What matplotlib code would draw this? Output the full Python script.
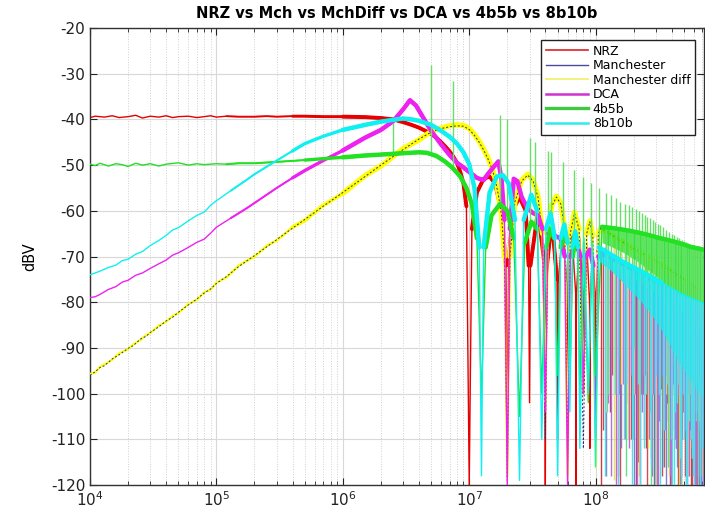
import numpy as np
import matplotlib
matplotlib.use("Agg")
import matplotlib.pyplot as plt
from matplotlib.ticker import LogLocator, NullFormatter, MultipleLocator
from matplotlib.lines import Line2D

plt.rcParams['font.family'] = ['DejaVu Sans']
plt.rcParams['axes.unicode_minus'] = False

# ---------------- data: frequency in MHz, level in dBV ----------------
labels = ["NRZ", "Manchester", "Manchester diff", "DCA", "4b5b", "8b10b"]

nrz_f = [0.01, 0.011, 0.013, 0.015, 0.017, 0.02, 0.023, 0.026, 0.03, 0.035, 0.04, 0.045, 0.05, 0.06,
         0.07, 0.08, 0.09, 0.1, 0.12, 0.15, 0.2, 0.25, 0.3, 0.4, 0.5, 0.7, 1, 1.5, 2, 2.5, 3, 3.5, 4,
         4.5, 5, 5.5, 6, 6.5, 7, 7.5, 8, 8.5, 9, 9.5, 10, 10.5, 11.5, 13, 14.5, 16, 18, 19.5, 20, 20.5,
         22, 25, 28, 29.5, 30, 30.5, 35, 39.5, 40, 40.5, 45, 49.5, 50, 50.5, 55, 59.5, 60, 60.5, 65,
         69.5, 70, 70.5, 75, 79.5, 80, 80.5, 85, 89.5, 90, 90.5, 95, 99.5, 100, 100.5, 105]
nrz_db = [-39.6, -39.3, -39.5, -39.2, -39.6, -39.4, -39.1, -39.7, -39.3, -39.5, -39.2, -39.6, -39.4,
          -39.3, -39.6, -39.4, -39.2, -39.5, -39.3, -39.4, -39.4, -39.3, -39.4, -39.3, -39.3, -39.4,
          -39.4, -39.5, -39.7, -40.0, -40.6, -41.2, -41.8, -42.5, -43.2, -44, -45, -46, -47, -48.2,
          -49.5, -51.5, -54, -59, -120, -64, -56, -53, -52.5, -54, -60, -72, -112, -72, -60, -57, -60,
          -72, -102, -72, -60, -72, -120, -74, -62, -75, -110, -76, -63.5, -76, -104, -77, -65, -78,
          -120, -78, -66, -79, -100, -79, -67, -80, -112, -80, -68, -80, -104, -80, -68.8]
nrz_hf_f = [120, 140, 160, 180, 200, 220, 240, 260, 280, 300, 320, 340, 360, 380, 400, 420, 440, 460,
            480, 500, 520, 540, 560, 580, 600, 620, 640, 660, 680, 700, 720]
nrz_hf_db = [-69.5, -70.5, -71.3, -72, -72.7, -73.3, -73.9, -74.4, -74.9, -75.4, -75.8, -76.2, -76.6,
             -77, -77.4, -77.8, -78.1, -78.4, -78.7, -79, -79.3, -79.6, -79.9, -80.2, -80.5, -80.7, -81,
             -81.2, -81.5, -81.7, -82]
nrz_nt_f = [110, 130, 150, 170, 190, 210, 230, 250, 270, 290, 310, 330, 350, 370, 390, 410, 430, 450,
            470, 490, 510, 530, 550, 570, 590, 610, 630, 650, 670, 690, 710]
nrz_nt_db = [-120, -104, -118, -98, -110, -120, -100, -112, -96, -120, -104, -99, -116, -102, -120, -97,
             -108, -120, -100, -95, -118, -103, -110, -120, -98, -106, -120, -101, -112, -96, -120]
nrz2_f = [115, 135, 155, 175, 195, 215, 235, 255, 275, 295, 315, 335, 355, 375, 395, 415, 435, 455, 475,
          495, 515, 535, 555, 575, 595, 615, 635, 655, 675, 695, 715]
nrz2_top = [-69, -70, -71, -71.7, -72.4, -73, -73.6, -74.2, -74.7, -75.2, -75.6, -76, -76.4, -76.8,
            -77.2, -77.6, -78, -78.3, -78.6, -78.9, -79.2, -79.5, -79.8, -80.1, -80.4, -80.6, -80.9,
            -81.1, -81.4, -81.6, -81.9]
nrz2_db = [-108, -96, -120, -102, -98, -115, -100, -120, -97, -110, -100, -118, -96, -106, -120, -99,
           -112, -95, -120, -104, -98, -116, -100, -120, -96, -108, -100, -120, -98, -110, -120]

mch_f = [0.01, 0.011, 0.012, 0.013, 0.015, 0.017, 0.02, 0.022, 0.025, 0.028, 0.03, 0.035, 0.04, 0.045,
         0.05, 0.06, 0.07, 0.08, 0.09, 0.1, 0.12, 0.15, 0.2, 0.25, 0.3, 0.4, 0.5, 0.7, 1, 1.5, 2, 3, 4,
         5, 6, 7, 8, 9, 10, 11, 12, 13, 14, 15, 16, 17, 18, 19, 20, 21, 23, 26, 29, 32, 35, 38, 40, 42,
         45, 49, 53, 57, 60, 63, 68, 74, 80, 85, 90, 95, 100, 105]
mch_db = [-96, -95.2, -94.3, -93.9, -92.4, -91.5, -90.1, -89.5, -88.1, -87.4, -86.6, -85.4, -84.1,
          -83.3, -82.2, -80.6, -79.3, -78, -77.1, -75.9, -74.4, -72.2, -69.8, -67.9, -66.3, -63.8,
          -61.9, -59, -56, -52.5, -50, -46.6, -44.3, -42.8, -42, -41.6, -41.4, -41.5, -42.2, -43.5,
          -45, -46.7, -48.5, -50.5, -53, -56.5, -61, -70, -119, -70, -58, -53.5, -52.2, -53.5, -57,
          -65, -110, -65, -59, -57, -58.5, -64, -115, -65, -60.5, -64, -112, -65, -62.4, -65.5, -104,
          -65]
mdf_db = [-95.7, -95.4, -94.1, -93.6, -92.6, -91.2, -90.3, -89.2, -88.3, -87.1, -86.8, -85.1, -84.3,
          -83, -82.4, -80.4, -79.5, -77.8, -77.3, -75.7, -74.6, -72, -70, -67.7, -66.5, -63.6, -62.1,
          -58.8, -56.2, -52.3, -50.2, -46.4, -44.5, -42.6, -41.9, -41.4, -41.2, -41.3, -42, -43.3,
          -44.8, -46.5, -48.3, -50.3, -52.8, -56.3, -60.8, -70, -118, -70, -58, -53.3, -52, -53.3,
          -56.8, -65, -102, -65, -58.8, -56.8, -58.3, -64, -118, -65, -60.3, -64, -100, -65, -62.2,
          -65.5, -116, -64.8]
mch_hf_f = [110, 130, 150, 170, 190, 210, 230, 250, 270, 290, 310, 330, 350, 370, 390, 410, 430, 450,
            470, 490, 510, 530, 550, 570, 590, 610, 630, 650, 670, 690, 710]
mch_hf_db = [-63.8, -65, -66.2, -67.1, -68, -68.6, -69.2, -69.8, -70.3, -70.8, -71.3, -71.8, -72.2,
             -72.6, -73, -73.4, -73.8, -74.2, -74.5, -74.8, -75.2, -75.5, -75.8, -76, -76.3, -76.5,
             -76.8, -77, -77.2, -77.4, -77.6]
mch_nt_f = [120, 140, 160, 180, 200, 220, 240, 260, 280, 300, 320, 340, 360, 380, 400, 420, 440, 460,
            480, 500, 520, 540, 560, 580, 600, 620, 640, 660, 680, 700, 720]
mch_nt_db = [-118, -100, -112, -98, -120, -100, -110, -96, -118, -100, -106, -96, -120, -100, -108, -95,
             -116, -98, -110, -96, -120, -100, -108, -96, -118, -100, -110, -98, -120, -100, -96]
mdf_nt_db = [-104, -119, -98, -110, -100, -118, -96, -112, -100, -120, -98, -108, -100, -118, -96, -110,
             -100, -120, -98, -108, -96, -118, -100, -112, -98, -120, -100, -106, -96, -118, -100]

dca_f = [0.01, 0.011, 0.012, 0.014, 0.016, 0.018, 0.02, 0.023, 0.026, 0.03, 0.035, 0.04, 0.045, 0.05,
         0.06, 0.07, 0.08, 0.09, 0.1, 0.13, 0.17, 0.2, 0.3, 0.4, 0.5, 0.7, 1, 1.5, 2, 2.5, 3, 3.4, 3.8,
         4.3, 5, 6, 7, 8, 9, 10, 11.5, 13, 14, 15.5, 17, 18, 19, 20, 21, 22.5, 24, 26, 29, 32, 35, 38,
         40, 42, 46, 49, 53, 57, 60, 63, 70, 76, 80, 84, 90, 96, 100, 105]
dca_db = [-79, -78.8, -78.3, -77.2, -76.6, -75.6, -75.2, -74.1, -73.6, -72.6, -71.6, -70.8, -69.7,
          -69.2, -68, -66.9, -66.2, -64.9, -63.6, -61.6, -59.6, -58.3, -55, -52.8, -51.2, -49, -46.8,
          -44, -42.3, -40.4, -37.8, -35.8, -37, -39.5, -42.5, -45.5, -47.8, -49.5, -50.5, -51.5, -52.8,
          -53.3, -52, -50.5, -49.2, -53, -62, -120, -64, -53, -53.5, -57, -59.5, -60.5, -61, -64, -104,
          -65, -65, -65.7, -66, -70, -120, -70, -67, -70, -100, -70, -68.5, -72, -110, -70]
dca_hf_f = [115, 135, 155, 175, 195, 215, 235, 255, 275, 295, 315, 335, 355, 375, 395, 415, 435, 455,
            475, 495, 515, 535, 555, 575, 595, 615, 635, 655, 675, 695, 715]
dca_hf_db = [-69.5, -70.4, -71.2, -72, -72.7, -73.3, -73.9, -74.5, -75, -75.5, -76, -76.4, -76.8, -77.2,
             -77.6, -78, -78.4, -78.8, -79.2, -79.6, -80, -80.3, -80.6, -81, -81.3, -81.6, -82, -82.3,
             -82.6, -83, -83.2]
dca_nt_f = [125, 145, 165, 185, 205, 225, 245, 265, 285, 305, 325, 345, 365, 385, 405, 425, 445, 465,
            485, 505, 525, 545, 565, 585, 605, 625, 645, 665, 685, 705, 725]
dca_nt_db = [-102, -120, -98, -112, -100, -120, -96, -110, -100, -120, -98, -106, -96, -118, -100, -110,
             -98, -120, -100, -108, -96, -118, -100, -110, -98, -120, -100, -108, -97, -118, -100]
dca2_f = [132, 152, 172, 192, 212, 232, 252, 272, 292, 312, 332, 352, 372, 392, 412, 432, 452, 472, 492,
          512, 532, 552, 572, 592, 612, 632, 652, 672, 692, 712]
dca2_top = [-70, -70.8, -71.6, -72.3, -73, -73.6, -74.2, -74.7, -75.2, -75.7, -76.2, -76.6, -77, -77.4,
            -77.8, -78.2, -78.6, -79, -79.4, -79.8, -80.1, -80.4, -80.8, -81.1, -81.4, -81.8, -82.1,
            -82.4, -82.8, -83.1]
dca2_db = [-118, -100, -110, -96, -120, -104, -98, -114, -100, -120, -96, -108, -102, -120, -98, -112,
           -100, -118, -96, -106, -120, -100, -110, -98, -120, -104, -96, -116, -100, -120]

g4_f = [0.01, 0.011, 0.012, 0.014, 0.016, 0.018, 0.02, 0.023, 0.026, 0.03, 0.035, 0.04, 0.05, 0.06,
        0.07, 0.08, 0.1, 0.12, 0.15, 0.2, 0.3, 0.5, 0.7, 1, 1.5, 2, 3, 4, 4.6, 5.5, 6.5, 7.5, 8.5, 9.5,
        10.5, 11.5, 12.5, 13.5, 15, 17.5, 20, 22.5, 25, 27.5, 31, 34.5, 37.5, 40.5, 44, 47, 50, 53, 56,
        60, 62.5, 66, 69, 72, 75, 80, 87.5, 94, 100]
g4_db = [-49.8, -50.1, -49.6, -50.2, -49.7, -49.9, -50.3, -49.6, -50, -49.7, -50.2, -49.8, -49.5, -50,
         -49.7, -49.9, -49.7, -49.8, -49.6, -49.6, -49.3, -48.9, -48.6, -48.3, -47.9, -47.7, -47.4,
         -47.2, -47.3, -48, -49.3, -50.8, -52.5, -55, -58.5, -66, -101, -68, -61, -58.5, -60, -66, -105,
         -67, -62.4, -64, -100, -68, -64, -66, -96, -68, -65, -67, -98, -70, -66, -68, -100, -67, -102,
         -67.5, -96]
g4_hf_f = [112.5, 137.5, 162.5, 187.5, 212.5, 237.5, 262.5, 287.5, 312.5, 337.5, 362.5, 387.5, 412.5,
           437.5, 462.5, 487.5, 512.5, 537.5, 562.5, 587.5, 612.5, 637.5, 662.5, 687.5, 712.5]
g4_hf_db = [-63.5, -63.8, -64.1, -64.4, -64.7, -65, -65.3, -65.6, -65.9, -66.1, -66.3, -66.5, -66.7,
            -66.9, -67.1, -67.3, -67.5, -67.7, -67.9, -68, -68.1, -68.2, -68.3, -68.4, -68.5]
g4_hf_lo = [-67, -68, -69, -70, -71, -72, -73, -73.8, -74.6, -75.4, -76.2, -77, -77.6, -78.2, -78.8,
            -79.3, -79.8, -80.2, -80.6, -81, -81.4, -81.8, -82.2, -82.6, -83]
g4_nt_f = [125, 150, 175, 200, 225, 250, 275, 300, 325, 350, 375, 400, 425, 450, 475, 500, 525, 550,
           575, 600, 625, 650, 675, 700, 725]
g4_nt_db = [-100, -92, -118, -90, -104, -95, -120, -92, -100, -88, -116, -94, -102, -90, -120, -92, -98,
            -88, -114, -95, -104, -90, -118, -92, -100]
spk_f = [2.5, 5, 7.5, 17.5, 20, 30, 33, 42, 44.5, 55, 68, 79, 92, 107, 120, 132, 145, 157, 170, 182,
         195, 207, 220, 232, 245, 257, 270, 282, 295, 310, 325, 340, 360, 380, 400, 420, 440, 460, 480,
         500, 520, 540, 560, 580, 600, 620, 640, 660, 680, 700]
spk_top = [-40.8, -28, -31.7, -39, -40, -44, -45, -47, -47.2, -49.3, -51, -52.5, -54, -55, -56, -56.6,
           -57.3, -58, -58.5, -58.8, -59.2, -59.6, -60, -60.5, -60.9, -61.3, -61.6, -62, -62.4, -62.8,
           -63.2, -63.6, -64.1, -64.6, -65, -65.4, -65.7, -66, -66.3, -66.6, -66.8, -67, -67.2, -67.4,
           -67.5, -67.6, -67.7, -67.8, -67.9, -68]
spk_base = [-47.5, -47.3, -50.8, -58.5, -60, -62.4, -63, -64, -64.5, -65, -66, -67, -67.5, -70, -72,
            -72.5, -73, -73.5, -74, -74.4, -74.8, -75.2, -75.6, -76, -76.4, -76.8, -77.2, -77.6, -78,
            -78.4, -78.8, -79.2, -79.6, -80, -80.4, -80.8, -81.2, -81.6, -82, -82.4, -82.8, -83.2,
            -83.6, -84, -84.4, -84.8, -85.2, -85.6, -86, -86.4]

c8_f = [0.01, 0.011, 0.012, 0.014, 0.016, 0.018, 0.02, 0.023, 0.026, 0.03, 0.035, 0.04, 0.045, 0.05,
        0.06, 0.07, 0.08, 0.09, 0.1, 0.13, 0.17, 0.2, 0.3, 0.4, 0.5, 0.7, 1, 1.5, 2, 2.5, 3, 3.5, 4, 5,
        6, 7, 8, 9, 10, 11, 12, 12.5, 13, 14.5, 16.5, 18.5, 20.5, 23, 25, 27, 31, 34.5, 37.5, 40.5, 44,
        47.5, 50, 53, 56.5, 60, 62.5, 65.5, 69, 72.5, 75, 81, 87.5, 94, 100]
c8_db = [-74, -73.6, -73.2, -72.4, -71.9, -70.9, -70.6, -69.5, -68.9, -67.6, -66.5, -65.4, -64.2, -63.7,
         -62.2, -61, -60.3, -58.8, -57.8, -55.6, -53.4, -52, -49, -46.9, -45.3, -43.7, -42.3, -41.2,
         -40.5, -40.1, -39.8, -40, -40.3, -41.2, -42.5, -43.8, -45.3, -47.2, -49.8, -55, -68, -118, -68,
         -56, -52.5, -52.2, -54, -62, -119, -62, -56.5, -60, -110, -64, -60.5, -66, -118, -66, -63, -67,
         -104, -68, -64.5, -68, -112, -66, -100, -67, -116]
c8_hf_f = [106, 131, 156, 181, 206, 231, 256, 281, 306, 331, 356, 381, 406, 431, 456, 481, 506, 531, 556,
           581, 606, 631, 656, 681, 706]
c8_hf_db = [-68, -69.5, -70.8, -71.8, -72.6, -73.3, -74, -74.6, -75.2, -75.7, -76.2, -76.7, -77.1, -77.5,
            -77.9, -78.2, -78.5, -78.8, -79, -79.2, -79.4, -79.6, -79.8, -80, -80.2]
c8_hf_lo = [-71, -73, -75, -77, -78.5, -80, -81.5, -83, -84.5, -86, -87.5, -89, -90.5, -91.8, -93,
            -94, -95, -96, -97, -97.8, -98.5, -99.2, -99.8, -100.3, -100.8]
c8_nt_f = [118, 143, 168, 193, 218, 243, 268, 293, 318, 343, 368, 393, 418, 443, 468, 493, 518, 543, 568,
           593, 618, 643, 668, 693, 718]
c8_nt_db = [-118, -100, -110, -120, -98, -112, -104, -120, -100, -116, -98, -110, -120, -102, -114, -100,
            -120, -106, -110, -118, -104, -120, -108, -112, -120]
c82_f = [124, 149, 174, 199, 224, 249, 274, 299, 324, 349, 374, 399, 424, 449, 474, 499, 524, 549, 574,
         599, 624, 649, 674, 699]
c82_top = [-69, -70.3, -71.3, -72.2, -73, -73.7, -74.3, -74.9, -75.5, -76, -76.5, -76.9, -77.3, -77.7,
           -78, -78.4, -78.7, -78.9, -79.1, -79.3, -79.5, -79.7, -79.9, -80.1]
c82_db = [-104, -120, -98, -110, -120, -100, -116, -96, -120, -108, -100, -120, -104, -98, -118, -110,
          -120, -100, -114, -120, -106, -118, -120, -110]

# ---------------- figure ----------------
fig = plt.figure(figsize=(7.05, 5.14), dpi=100)
ax = fig.add_axes([90 / 705, 29 / 514, 614 / 705, 457 / 514])
MHZ = 1e6


def notches(nf, nd, top, color, z):
    ax.vlines(np.asarray(nf, dtype=float) * MHZ, nd, top, colors=color, lw=1.0, zorder=z)


def draw(f, db, hf_f, hf_db, nt_f, nt_db, color, ncolor, z, lw_thin=1.0, lw_thick=2.6,
         lo=None, lo_alpha=0.85):
    f = np.asarray(f, dtype=float) * MHZ
    db = np.asarray(db, dtype=float)
    hf_f = np.asarray(hf_f, dtype=float) * MHZ
    hf_db = np.asarray(hf_db, dtype=float)
    notches(nt_f, nt_db, hf_db, ncolor, z)
    if lo is not None:
        ax.fill_between(hf_f, lo, hf_db, color=color, lw=0, alpha=lo_alpha, zorder=z)
    allf = np.concatenate([f, hf_f])
    alld = np.concatenate([db, hf_db])
    ax.plot(allf, alld, color=color, lw=lw_thin, zorder=z + 0.1)
    thick = np.where(alld > -76, alld, np.nan)
    for fmin, w in ((0.12, 0.45), (0.35, 0.75), (0.9, 1.0)):
        m = allf >= fmin * MHZ
        ax.plot(allf[m], thick[m], color=color, lw=lw_thick * w, zorder=z + 0.1,
                solid_capstyle='round', solid_joinstyle='round')


draw(nrz_f, nrz_db, nrz_hf_f, nrz_hf_db, nrz_nt_f, nrz_nt_db, '#e80000', '#c83c46', 2, lw_thick=2.8)
notches(nrz2_f, nrz2_db, nrz2_top, '#d04a5a', 2)
draw(mch_f, mdf_db, mch_hf_f, mch_hf_db, mch_nt_f, mdf_nt_db, '#ffff00', '#e6e650', 3,
     lw_thin=1.6, lw_thick=3.8)
ax.plot(np.concatenate([np.asarray(mch_f), mch_hf_f]) * MHZ, np.concatenate([mch_db, mch_hf_db]),
        color='#303070', lw=0.7, ls=(0, (2, 2)), zorder=3.5)
notches(mch_nt_f, mch_nt_db, mch_hf_db, '#8080d0', 2.5)
draw(dca_f, dca_db, dca_hf_f, dca_hf_db, dca_nt_f, dca_nt_db, '#ee22ee', '#c860d8', 4, lw_thick=3.2)
notches(dca2_f, dca2_db, dca2_top, '#b070e0', 4)
draw(g4_f, g4_db, g4_hf_f, g4_hf_db, g4_nt_f, g4_nt_db, '#22e022', '#5ce08c', 5, lw_thick=3.2,
     lo=g4_hf_lo, lo_alpha=0.75)
ax.vlines(np.asarray(spk_f) * MHZ, spk_base, spk_top, colors='#66e066', lw=1.0, zorder=5.05)
draw(c8_f, c8_db, c8_hf_f, c8_hf_db, c8_nt_f, c8_nt_db, '#10f0f0', '#50e0e8', 6, lw_thick=3.2,
     lo=c8_hf_lo, lo_alpha=0.8)
notches(c82_f, c82_db, c82_top, '#58d8e8', 6)

# ---------------- axes styling ----------------
ax.set_xscale('log')
ax.set_xlim(1e4, 7.2e8)
ax.set_ylim(-120, -20)
ax.yaxis.set_major_locator(MultipleLocator(10))
ax.xaxis.set_major_locator(LogLocator(base=10, numticks=12))
ax.xaxis.set_minor_locator(LogLocator(base=10, subs=np.arange(2, 10), numticks=12))
ax.xaxis.set_minor_formatter(NullFormatter())
ax.grid(True, which='major', color='#d8d8d8', lw=0.8, zorder=0)
ax.grid(True, which='minor', axis='x', color='#cfcfcf', lw=0.7, ls=':', zorder=0)
ax.set_axisbelow(True)
ax.tick_params(which='both', direction='in', top=True, right=True, labelsize=11, colors='#222222')
ax.tick_params(which='major', length=5, width=0.8)
ax.tick_params(which='minor', length=3, width=0.6)
for s in ax.spines.values():
    s.set_color('#333333')
    s.set_linewidth(1.0)

ax.set_ylabel('dBV', fontsize=10.5, labelpad=10)
ax.set_title('NRZ vs Mch vs MchDiff vs DCA vs 4b5b vs 8b10b', fontsize=10.5, fontweight='bold',
             pad=7)

handles = [
    Line2D([], [], color='#dd2020', lw=1.2),
    Line2D([], [], color='#4a4a9a', lw=1.0),
    Line2D([], [], color='#f2f27a', lw=1.4),
    Line2D([], [], color='#d030d0', lw=1.8),
    Line2D([], [], color='#40c840', lw=2.4),
    Line2D([], [], color='#30ecec', lw=1.8),
]
leg = ax.legend(handles, labels, loc='upper right', bbox_to_anchor=(0.985, 0.973), fontsize=9,
                frameon=True, fancybox=False, edgecolor='#222222', framealpha=1, handlelength=3.4,
                handletextpad=0.35, labelspacing=0.12, borderpad=0.35, borderaxespad=0)
leg.get_frame().set_linewidth(1.0)
leg.set_zorder(20)

fig.savefig('out.png', dpi=100)
